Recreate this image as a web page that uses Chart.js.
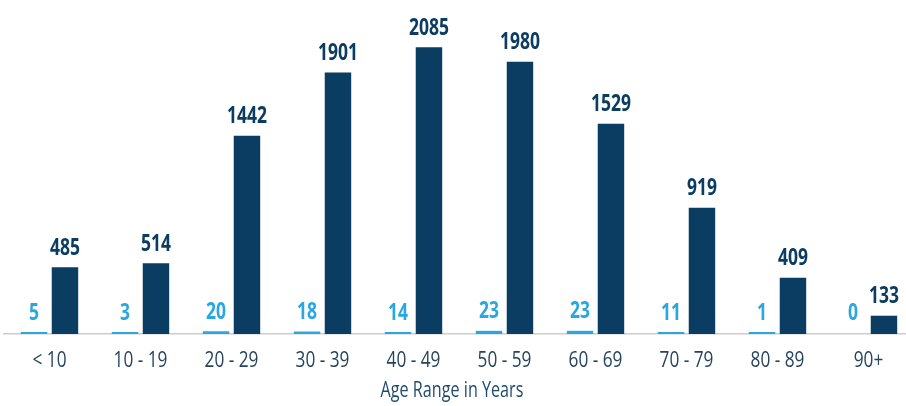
<!DOCTYPE html>
<html>
<head>
<meta charset="utf-8">
<script src="https://cdn.jsdelivr.net/npm/chart.js@4.4.1/dist/chart.umd.min.js"></script>
<style>
    html, body { margin: 0; padding: 0; background: #fff; overflow: hidden; }
    #wrap { width: 914px; height: 406px; }
</style>
</head>
<body>
<div id="wrap"><canvas id="age-chart" width="914" height="406"></canvas></div>
<script>
const ageRanges = ['< 10', '10 - 19', '20 - 29', '30 - 39', '40 - 49', '50 - 59', '60 - 69', '70 - 79', '80 - 89', '90+'];
const smallSeries = [5, 3, 20, 18, 14, 23, 23, 11, 1, 0];
const largeSeries = [485, 514, 1442, 1901, 2085, 1980, 1529, 919, 409, 133];
const axisTitle = 'Age Range in Years';

const FONT = "'Open Sans', sans-serif";
const NAVY = '#0b3c61';
const LIGHT = '#2aa7df';

// no condensed face is installed, so squeeze the text horizontally
function narrowText(ctx, text, x, y, font, color, squeeze) {
    ctx.save();
    ctx.font = font;
    ctx.fillStyle = color;
    ctx.textAlign = 'center';
    ctx.textBaseline = 'alphabetic';
    ctx.translate(x, y);
    ctx.scale(squeeze, 1);
    ctx.fillText(text, 0, 0);
    ctx.restore();
}

const narrowLabels = {
    id: 'narrowLabels',
    afterDatasetsDraw(chart) {
        const ctx = chart.ctx;
        chart.data.datasets.forEach((ds, i) => {
            chart.getDatasetMeta(i).data.forEach((bar, j) => {
                narrowText(ctx, String(ds.data[j]), bar.x, bar.y - 12.5, "bold 23px " + FONT, ds.labelColor, 0.76);
            });
        });
        const x = chart.scales.x;
        ageRanges.forEach((lab, i) => {
            narrowText(ctx, lab, x.getPixelForTick(i), 366.5, "21px " + FONT, '#27445e', 0.82);
        });
        narrowText(ctx, axisTitle, 452, 396.5, "21px " + FONT, '#1f4a6e', 0.77);
    }
};

new Chart(document.getElementById('age-chart').getContext('2d'), {
    type: 'bar',
    plugins: [narrowLabels],
    data: {
        labels: ageRanges,
        datasets: [
            {
                data: smallSeries,
                minBarLength: 2,
                backgroundColor: c => c.raw === 0 ? 'rgba(0,0,0,0)' : LIGHT,
                labelColor: LIGHT
            },
            { data: largeSeries, backgroundColor: NAVY, labelColor: NAVY }
        ]
    },
    options: {
        responsive: false,
        animation: false,
        categoryPercentage: 0.68,
        barPercentage: 0.855,
        layout: { padding: { left: 4, right: 0, top: 4, bottom: 72 } },
        plugins: {
            legend: { display: false },
            tooltip: { enabled: false }
        },
        scales: {
            x: {
                grid: { display: false, drawTicks: false },
                border: { display: true, color: '#c9cdd1', width: 1.5 },
                ticks: { display: false }
            },
            y: {
                display: false,
                min: 0,
                max: 2400
            }
        }
    }
});
</script>
</body>
</html>
